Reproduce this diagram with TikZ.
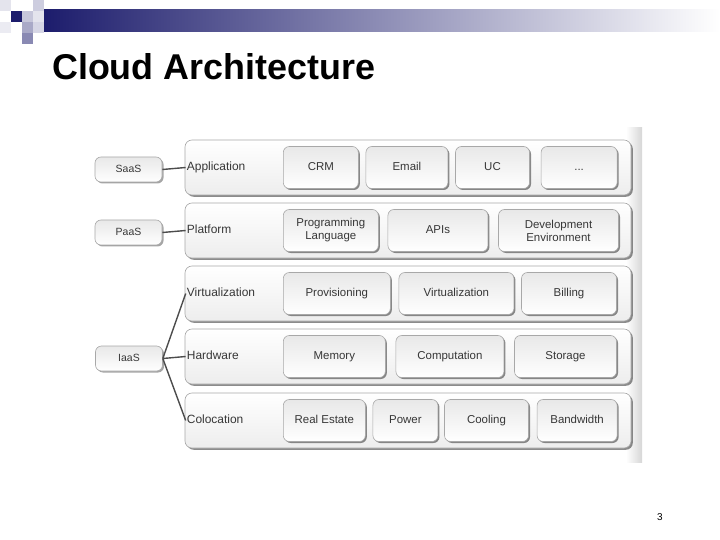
\documentclass[tikz,border=0pt]{standalone}
\usepackage{fontspec}
\setmainfont{Liberation Sans}
\usepackage{xcolor}
\usetikzlibrary{positioning, shadows, calc}

\definecolor{barblue}{RGB}{28,28,108}
\definecolor{labelgray}{RGB}{55,55,55}
\definecolor{edgegray}{RGB}{168,168,168}

\tikzset{
  % Layer styles
  layer/.style={rectangle, rounded corners=7bp, minimum width=446bp, minimum height=55bp, draw=edgegray, line width=0.6bp, top color=white, bottom color=black!7, drop shadow={shadow xshift=1.8bp, shadow yshift=-1.8bp, opacity=0.6, fill=black!75}},
  cell/.style={rectangle, rounded corners=6bp, minimum height=42bp, draw=edgegray, line width=0.6bp, top color=black!9, bottom color=white, text centered, align=center, inner sep=1bp, text height=8.5bp, text depth=2.5bp, font=\fontsize{11.5}{13}\selectfont, text=labelgray, drop shadow={shadow xshift=1.5bp, shadow yshift=-1.5bp, opacity=0.6, fill=black!75}},
  twoline/.style={text height=, text depth=},
  service/.style={rectangle, rounded corners=6bp, minimum width=67bp, minimum height=25bp, draw=edgegray, line width=0.6bp, top color=black!9, bottom color=white, text centered, text height=7.5bp, text depth=2bp, font=\fontsize{10.5}{12}\selectfont, text=labelgray, drop shadow={shadow xshift=1.5bp, shadow yshift=-1.5bp, opacity=0.5, fill=black!70}},
  layername/.style={anchor=west, inner sep=1bp, text height=8.5bp, text depth=2.5bp, font=\fontsize{12}{13}\selectfont, text=labelgray},
  link/.style={draw=black!70, line width=1.4bp},
}

\begin{document}
\begin{tikzpicture}[x=1bp, y=-1bp,
    tile/.style={draw=none, fill=#1}
  ]
    \useasboundingbox (0,0) rectangle (720,540);

    % Header bar and tiles
    \shade[left color=barblue, middle color=barblue!40!white, right color=white] (43,10) rectangle (720,32);
    \foreach \x/\y/\c in {0/0/barblue!12, 11/11/barblue, 22/11/barblue!25, 33/0/barblue!22, 33/11/barblue!12, 0/22/barblue!9, 22/22/barblue!38, 33/22/barblue!18, 22/33/barblue!52} {
      \fill[tile=\c] (\x,\y) rectangle ++(11,11);
    }

    % Title
    \node[anchor=base west, inner sep=0pt, font=\fontsize{36}{40}\selectfont\bfseries] (title) at (52,80) {Cloud Architecture};

    % Scan edge
    \shade[left color=white, right color=black!16] (626,128) rectangle (642,462);

    % Layers
    \foreach \name/\y/\txt in {app/167.5/Application, plat/230.5/Platform, virt/293.5/Virtualization, hw/356.5/Hardware, colo/420.5/Colocation} {
      \node[layer] (\name) at (408,\y) {};
      \node[layername] (\name-l) at ([xshift=1bp]\name.west) {\txt};
    }

    % Application row
    \node[cell, minimum width=75bp, anchor=west] (crm) at (283,167.5) {CRM};
    \node[cell, minimum width=82bp, right=7bp of crm] (email) {Email};
    \node[cell, minimum width=74bp, right=7bp of email] (uc) {UC};
    \node[cell, minimum width=76bp, right=11bp of uc] (more) {...};

    % Platform row
    \node[cell, twoline, minimum width=95bp, anchor=west] (lang) at (283,230.5) {Programming\\Language};
    \node[cell, minimum width=100bp, right=9bp of lang] (apis) {APIs};
    \node[cell, twoline, minimum width=120bp, right=10bp of apis] (devenv) {Development\\Environment};

    % Virtualization row
    \node[cell, minimum width=107bp, anchor=west] (prov) at (283,293.5) {Provisioning};
    \node[cell, minimum width=115bp, right=8bp of prov] (virtcell) {Virtualization};
    \node[cell, minimum width=95bp, right=7bp of virtcell] (billing) {Billing};

    % Hardware row
    \node[cell, minimum width=102bp, anchor=west] (memory) at (283,356.5) {Memory};
    \node[cell, minimum width=108bp, right=10bp of memory] (compute) {Computation};
    \node[cell, minimum width=102bp, right=10bp of compute] (storage) {Storage};

    % Colocation row
    \node[cell, minimum width=82bp, anchor=west] (estate) at (283,420.5) {Real Estate};
    \node[cell, minimum width=65bp, right=7bp of estate] (power) {Power};
    \node[cell, minimum width=84bp, right=6bp of power] (cooling) {Cooling};
    \node[cell, minimum width=80bp, right=8bp of cooling] (bandwidth) {Bandwidth};

    % Service models
    \node[service] (saas) at (128.5,169.5) {SaaS};
    \node[service] (paas) at (128.5,232.5) {PaaS};
    \node[service] (iaas) at (129,358.5) {IaaS};

    \draw[link] (saas.east) -- (app-l.west);
    \draw[link] (paas.east) -- (plat-l.west);
    \foreach \t in {virt, hw, colo} {
      \draw[link] (iaas.east) -- (\t-l.west);
    }

    % Page number
    \node[font=\fontsize{10}{12}\selectfont] (pagenum) at (660,517) {3};
  \end{tikzpicture}
\end{document}
